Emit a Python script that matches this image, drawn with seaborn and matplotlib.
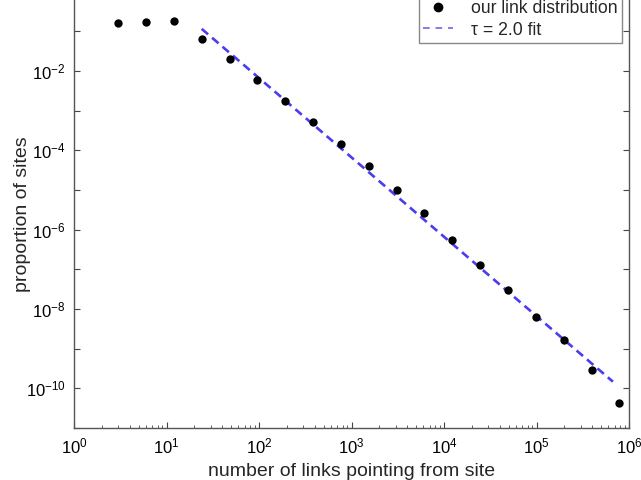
import numpy as np
import pandas as pd
import matplotlib
matplotlib.use("Agg")
import matplotlib.pyplot as plt
import seaborn as sns
from matplotlib.lines import Line2D

# ---- data ----
links = [3, 6, 12, 24, 48, 96, 192, 384, 768, 1536, 3072, 6144, 12288,
         24576, 49152, 98304, 196608, 393216, 786432]
log_prop = [-0.785, -0.76, -0.74, -1.20, -1.70, -2.23, -2.75, -3.28, -3.84,
            -4.39, -4.99, -5.57, -6.25, -6.90, -7.51, -8.21, -8.78, -9.54, -10.36]
proportion = [10 ** v for v in log_prop]

tau = 2.0
fit_const = 66.0
fit_x = [24, 6.7e5]
fit_y = [fit_const * x ** (-tau) for x in fit_x]

x_ticks = [1, 10, 100, 1e3, 1e4, 1e5, 1e6]
x_labels = ["$10^{0}$", "$10^{1}$", "$10^{2}$", "$10^{3}$", "$10^{4}$", "$10^{5}$", "$10^{6}$"]
y_exps = list(range(-11, 1))
legend_labels = ["our link distribution", "τ = 2.0 fit"]

sns.set_theme(style="ticks")
plt.rcParams["font.family"] = ["Liberation Sans", "DejaVu Sans"]
plt.rcParams["mathtext.fontset"] = "custom"
plt.rcParams["mathtext.rm"] = "Liberation Sans"
plt.rcParams["mathtext.it"] = "Liberation Sans:italic"
plt.rcParams["mathtext.default"] = "regular"

fig = plt.figure(figsize=(6.41, 4.8), dpi=100)
ax = fig.add_axes([74 / 641, 1 - 428 / 480, (629 - 74) / 641, (428 + 8.5) / 480])

df = pd.DataFrame({"links": links, "proportion": proportion})
fit_df = pd.DataFrame({"x": fit_x, "y": fit_y})

sns.lineplot(data=fit_df, x="x", y="y", ax=ax, color="#4a3cf0", linewidth=1.9,
             dashes=False, zorder=2)
ax.lines[-1].set_dashes([3.2, 2.0])
sns.scatterplot(data=df, x="links", y="proportion", ax=ax, color="black", s=36,
                edgecolor="black", linewidth=0, zorder=3)

ax.set_xscale("log")
ax.set_yscale("log")
ax.set_xlim(1, 1e6)
ax.set_ylim(1e-11, 1e0)

ax.set_xticks(x_ticks)
ax.set_xticklabels(x_labels, fontsize=12)
ax.xaxis.set_minor_locator(matplotlib.ticker.LogLocator(base=10, subs=np.arange(2, 10)))
ax.xaxis.set_minor_formatter(matplotlib.ticker.NullFormatter())

ax.set_yticks([10.0 ** e for e in y_exps])
ax.set_yticklabels([f"$10^{{{e}}}$" if e % 2 == 0 and e < 0 else "" for e in y_exps], fontsize=12)
ax.yaxis.set_minor_locator(matplotlib.ticker.NullLocator())

ax.tick_params(axis="both", which="major", direction="in", length=4, width=0.8,
               color="#444444", top=True, right=True, labelcolor="black", pad=6)
ax.tick_params(axis="x", which="minor", direction="in", length=2.5, width=0.6,
               color="#444444", top=True)
for s in ax.spines.values():
    s.set_visible(True)
    s.set_color("#555555")
    s.set_linewidth(1.0)

ax.set_xlabel("number of links pointing from site", fontsize=14)
ax.set_ylabel("proportion of sites", fontsize=14)
ax.xaxis.set_label_coords(0.5, -0.0795)
ax.yaxis.set_label_coords(-0.077, 0.49)

handles = [
    Line2D([], [], marker="o", linestyle="none", color="black", markersize=6),
    Line2D([], [], color="#6e66f0", linewidth=1.2, dashes=[4, 3.5]),
]
leg = fig.legend(handles, legend_labels,
                 loc="lower right", bbox_to_anchor=(622 / 641, 1 - 43 / 480),
                 fontsize=12.7, frameon=True, fancybox=False, framealpha=1,
                 edgecolor="#888888", handlelength=1.7, labelspacing=0.25,
                 borderpad=0.25, handletextpad=1.0, borderaxespad=0)
leg.get_frame().set_linewidth(1.0)

fig.savefig("out.png", dpi=100)
